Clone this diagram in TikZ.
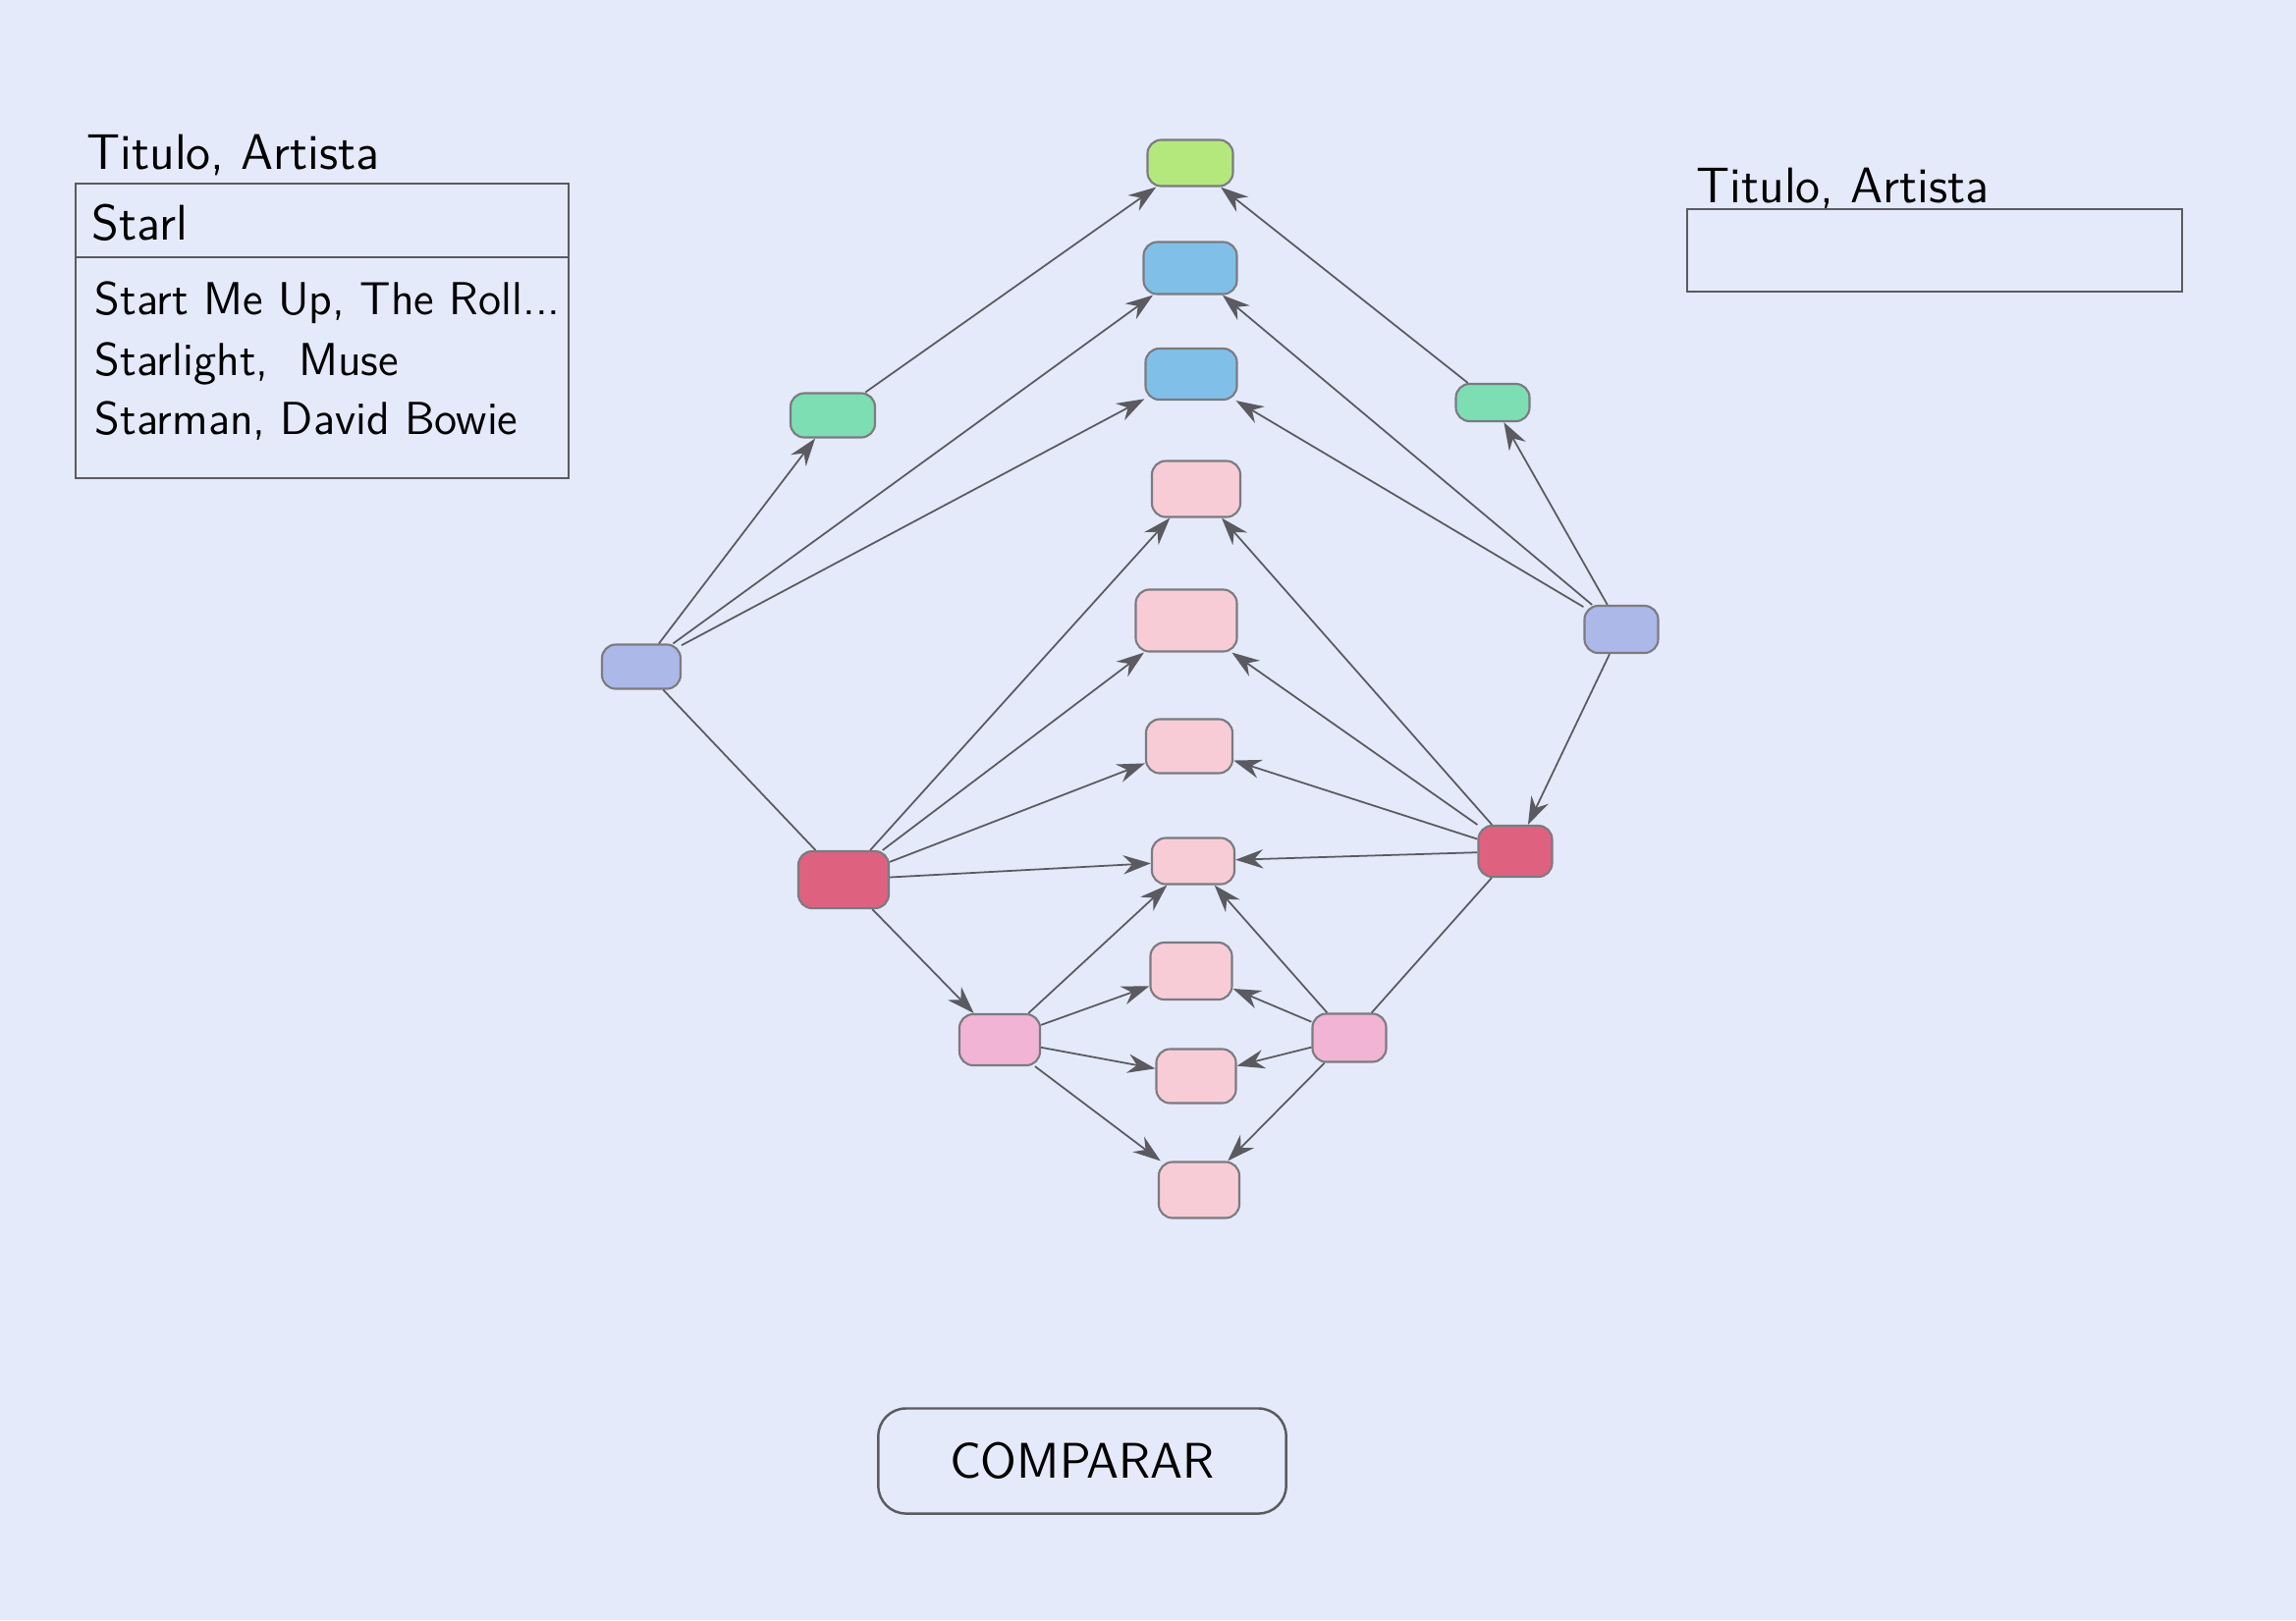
\documentclass[tikz,border=0pt]{standalone}
\usepackage{fontspec}
\usepackage{xcolor}
\usepackage{tikz}
\usetikzlibrary{arrows.meta, positioning}

\definecolor{paper}{RGB}{228,234,250}
\definecolor{pencil}{RGB}{90,90,96}
\definecolor{limefill}{RGB}{180,232,125}
\definecolor{skyfill}{RGB}{128,192,232}
\definecolor{mintfill}{RGB}{125,222,180}
\definecolor{lavfill}{RGB}{172,184,232}
\definecolor{blushfill}{RGB}{248,204,214}
\definecolor{rosefill}{RGB}{242,180,212}
\definecolor{crimsonfill}{RGB}{222,98,128}

\begin{document}
\begin{tikzpicture}[
        x=0.01cm, y=-0.01cm,
        >={Stealth[length=8pt, width=5.5pt]},
        font=\sffamily\fontsize{14.5}{17}\selectfont,
        % box styles
        song/.style={rectangle, rounded corners=4pt, draw=pencil!80, line width=0.6pt, minimum width=0.86cm, minimum height=0.52cm, inner sep=0pt},
        greenbox/.style={song, fill=limefill},
        bluebox/.style={song, fill=skyfill},
        mintbox/.style={song, fill=mintfill},
        lavbox/.style={song, fill=lavfill},
        pinkbox/.style={song, fill=blushfill},
        rosebox/.style={song, fill=rosefill},
        redbox/.style={song, fill=crimsonfill},
        arrow/.style={->, draw=pencil, line width=0.5pt},
        line/.style={draw=pencil, line width=0.5pt},
        field/.style={draw=pencil, line width=0.6pt},
        txt/.style={anchor=base west, inner sep=0pt},
        entry/.style={txt, font=\sffamily\fontsize{13.4}{16}\selectfont},
        button/.style={rectangle, rounded corners=8pt, draw=pencil, line width=0.7pt, minimum width=4.15cm, minimum height=1.07cm}
    ]

    % --- 0. PAPER ---
    \fill[paper] (0,0) rectangle (2338,1650);

    % --- 1. SEARCH PANELS ---
    \node[txt] (headL) at (88,172) {Titulo, Artista};
    \draw[field] (77,187) rectangle (579,487);
    \draw[field] (77,262) -- (579,262);
    \node[txt] (query) at (93,244) {Starl};
    \node[entry] (songA) at (96,320) {Start Me Up, The Roll...};
    \node[entry] (songB) at (96,382) {Starlight,\ \ Muse};
    \node[entry] (songC) at (96,442) {Starman, David Bowie};

    \node[txt] (headR) at (1727,206) {Titulo, Artista};
    \draw[field] (1718,213) rectangle (2222,297);

    % --- 2. GRAPH NODES ---
    \node[greenbox, minimum width=0.87cm, minimum height=0.47cm] (top) at (1212,166) {};
    \node[bluebox, minimum width=0.95cm, minimum height=0.53cm] (blueA) at (1212,273) {};
    \node[bluebox, minimum width=0.93cm] (blueB) at (1213,381) {};
    \node[pinkbox, minimum width=0.9cm, minimum height=0.57cm] (pinkA) at (1218,498) {};
    \node[pinkbox, minimum width=1.03cm, minimum height=0.63cm] (pinkB) at (1208,632) {};
    \node[pinkbox, minimum width=0.88cm, minimum height=0.55cm] (pinkC) at (1211,760) {};
    \node[pinkbox, minimum width=0.84cm, minimum height=0.47cm] (pinkD) at (1215,877) {};
    \node[pinkbox, minimum width=0.83cm, minimum height=0.58cm] (pinkE) at (1213,989) {};
    \node[pinkbox, minimum width=0.81cm, minimum height=0.55cm] (pinkF) at (1218,1096) {};
    \node[pinkbox, minimum width=0.82cm, minimum height=0.57cm] (pinkG) at (1221,1212) {};

    \node[mintbox, minimum height=0.45cm] (mintL) at (848,423) {};
    \node[mintbox, minimum width=0.75cm, minimum height=0.38cm] (mintR) at (1520,410) {};
    \node[lavbox, minimum width=0.8cm, minimum height=0.45cm] (lavL) at (653,679) {};
    \node[lavbox, minimum width=0.75cm, minimum height=0.48cm] (lavR) at (1651,641) {};
    \node[redbox, minimum width=0.92cm, minimum height=0.58cm] (redL) at (859,896) {};
    \node[redbox, minimum width=0.75cm] (redR) at (1543,867) {};
    \node[rosebox, minimum width=0.82cm] (roseL) at (1018,1059) {};
    \node[rosebox, minimum width=0.75cm, minimum height=0.49cm] (roseR) at (1374,1057) {};

    % --- 3. UPPER BRANCHES ---
    \draw[arrow] (lavL) -- (mintL);
    \draw[arrow] (lavL) -- (blueA);
    \draw[arrow] (lavL) -- (blueB);
    \draw[arrow] (mintL) -- (top);
    \draw[arrow] (lavR) -- (mintR);
    \draw[arrow] (mintR) -- (top);
    \draw[arrow] (lavR) -- (blueA);
    \draw[arrow] (lavR) -- (blueB);
    \draw[arrow] (lavR) -- (redR);
    \draw[line]  (lavL) -- (redL);

    % --- 4. MIDDLE BRANCHES ---
    \foreach \t in {pinkA, pinkB, pinkC, pinkD, roseL}
        \draw[arrow] (redL) -- (\t);
    \foreach \t in {pinkA, pinkB, pinkC, pinkD}
        \draw[arrow] (redR) -- (\t);
    \draw[line] (redR) -- (roseR);

    % --- 5. LOWER BRANCHES ---
    \foreach \t in {pinkD, pinkE, pinkF, pinkG} {
        \draw[arrow] (roseL) -- (\t);
        \draw[arrow] (roseR) -- (\t);
    }

    % --- 6. BUTTON ---
    \node[button, text width=3.9cm, align=center] (compare) at (1102,1488) {COMPARAR\hspace*{0.3cm}};

\end{tikzpicture}
\end{document}
